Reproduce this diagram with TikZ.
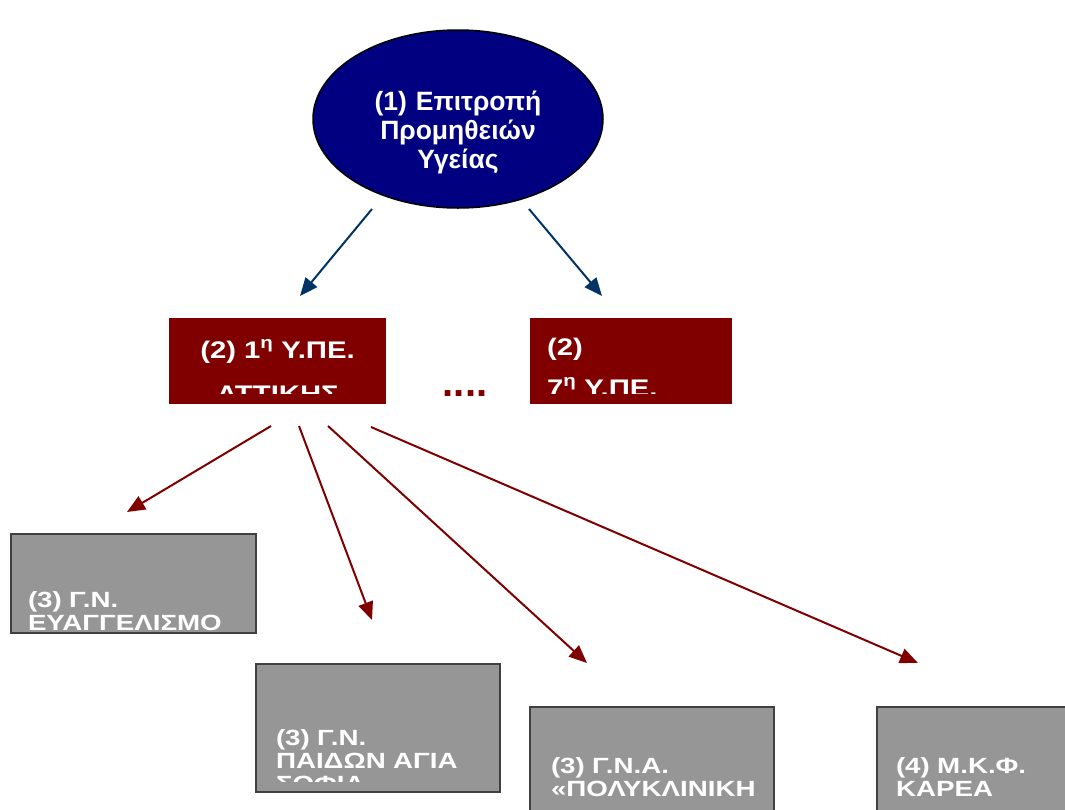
\documentclass[tikz,border=0pt]{standalone}
\usepackage{fontspec}
\setmainfont{Liberation Sans}
\newfontfamily\boxfont[FakeStretch=1.26]{Liberation Sans}
\newfontfamily\redfont[FakeStretch=1.22]{Liberation Sans}
\usetikzlibrary{shapes.geometric,arrows.meta}
\definecolor{navyfill}{HTML}{000080}
\definecolor{maroonfill}{HTML}{800000}
\definecolor{greyfill}{HTML}{969696}
\definecolor{greyline}{HTML}{404040}
\definecolor{bluearrow}{HTML}{003366}
\tikzset{
  redbox/.style={rectangle, fill=maroonfill, draw=none, inner sep=0pt, outer sep=0pt},
  greybox/.style={rectangle, fill=greyfill, draw=greyline, line width=2pt, inner sep=0pt, outer sep=0pt},
  bluearr/.style={draw=bluearrow, line width=2pt, -{Triangle[length=18pt,width=15pt]}},
  redarr/.style={draw=maroonfill, line width=2pt, -{Triangle[length=18pt,width=15pt]}},
  greytext/.style={text=white, inner sep=0pt, outer sep=0pt, anchor=base west, text width=240pt, align=left,
    font=\boxfont\bfseries\fontsize{22}{23}\selectfont},
  redtext/.style={text=white, inner sep=0pt, outer sep=0pt,
    font=\redfont\bfseries\fontsize{24}{44}\selectfont},
}
\begin{document}
\begin{tikzpicture}[x=1pt,y=-1pt]
\clip (0,0) rectangle (1065,809);
\fill[white] (0,0) rectangle (1065,809);

% top ellipse
\node[ellipse, fill=navyfill, draw=black, line width=1.5pt, minimum width=290pt, minimum height=178pt, inner sep=0pt] (ell) at (458,119) {};
\node[text=white, inner sep=0pt, anchor=base, text width=300pt, align=center,
  font=\bfseries\fontsize{26.5}{29}\selectfont] (elltext) at (458,110.5)
  {(1) Επιτροπή\\Προμηθειών\\Υγείας};

% red boxes
\node[redbox, minimum width=217pt, minimum height=86pt] (r1) at (277.5,361) {};
\node[redbox, minimum width=202pt, minimum height=86pt] (r2) at (631,361) {};
\begin{scope}
  \clip (169,318) rectangle (732,393);
  \node[redtext, anchor=base, text width=217pt, align=center] (r1text) at (277.5,358)
    {(2) 1\textsuperscript{η} Υ.ΠΕ.\\ΑΤΤΙΚΗΣ};
  \node[redtext, anchor=base west, text width=190pt, align=left, font=\redfont\bfseries\fontsize{24}{41}\selectfont] (r2text) at (547,355)
    {(2)\\7\textsuperscript{η} Υ.ΠΕ.};
\end{scope}
\node[text=maroonfill, inner sep=0pt, anchor=base, font=\bfseries\fontsize{40}{40}\selectfont] (dots) at (465,396) {....};

% grey boxes
\node[greybox, minimum width=245pt, minimum height=99pt] (g1) at (133.5,583.5) {};
\node[greybox, minimum width=244pt, minimum height=128pt] (g2) at (378,728) {};
\node[greybox, minimum width=244pt, minimum height=124pt] (g3) at (652,769) {};
\node[greybox, minimum width=214pt, minimum height=124pt] (g4) at (984,769) {};

\node[greytext] (g1text) at (28,607) {(3) Γ.Ν.\\ΕΥΑΓΓΕΛΙΣΜΟ};
\begin{scope}
  \clip (255,663) rectangle (501,781);
  \node[greytext] (g2text) at (276,745) {(3) Γ.Ν.\\ΠΑΙΔΩΝ ΑΓΙΑ\\ΣΟΦΙΑ};
\end{scope}
\node[greytext] (g3text) at (551,773) {(3) Γ.Ν.Α.\\«ΠΟΛΥΚΛΙΝΙΚΗ};
\node[greytext] (g4text) at (896,773) {(4) Μ.Κ.Φ.\\ΚΑΡΕΑ};

% connector end points
\coordinate (b1s) at (372,209);
\coordinate (b1e) at (300,296);
\coordinate (b2s) at (529,209);
\coordinate (b2e) at (602,296);
\coordinate (aS) at (271,426);
\coordinate (aE) at (127,512);
\coordinate (bS) at (299,426);
\coordinate (bE) at (372,620);
\coordinate (cS) at (328,426);
\coordinate (cE) at (587,663);
\coordinate (dS) at (371,427);
\coordinate (dE) at (918,663);

\draw[bluearr] (b1s) -- (b1e);
\draw[bluearr] (b2s) -- (b2e);
\draw[redarr] (aS) -- (aE);
\draw[redarr] (bS) -- (bE);
\draw[redarr] (cS) -- (cE);
\draw[redarr] (dS) -- (dE);
\end{tikzpicture}
\end{document}
